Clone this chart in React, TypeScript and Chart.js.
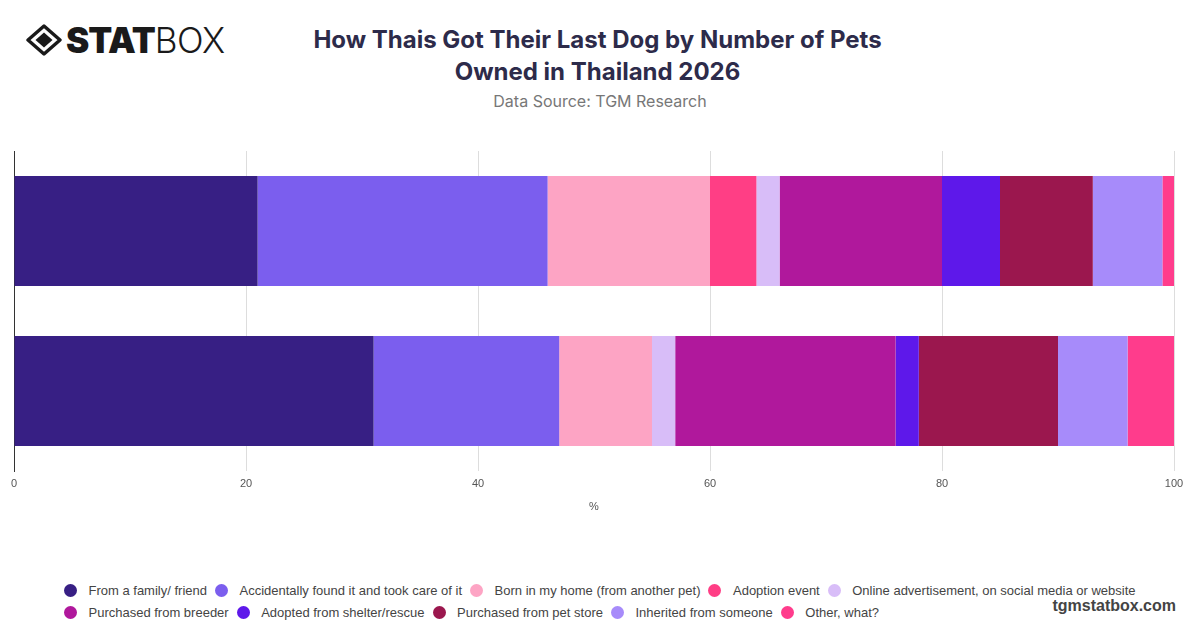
import React, { useEffect, useRef } from "react";
import { Chart, registerables } from "chart.js";

Chart.register(...registerables);

const categories = ["1 pet", "2 or more pets"];

const seriesNames = [
  "From a family/ friend",
  "Accidentally found it and took care of it",
  "Born in my home (from another pet)",
  "Adoption event",
  "Online advertisement, on social media or website",
  "Purchased from breeder",
  "Adopted from shelter/rescue",
  "Purchased from pet store",
  "Inherited from someone",
  "Other, what?",
];

const seriesColors = [
  "#371F84",
  "#7B5EEE",
  "#FDA4C4",
  "#FF3E85",
  "#D8BDF8",
  "#B0189C",
  "#5E18EA",
  "#9B174E",
  "#A78BFA",
  "#FF3C8C",
];

const fromFamily = [21, 31];
const accidentallyFound = [25, 16];
const bornInHome = [14, 8];
const adoptionEvent = [4, 0];
const onlineAd = [2, 2];
const breeder = [14, 19];
const shelter = [5, 2];
const petStore = [8, 12];
const inherited = [6, 6];
const other = [1, 4];

const seriesValues = [
  fromFamily,
  accidentallyFound,
  bornInHome,
  adoptionEvent,
  onlineAd,
  breeder,
  shelter,
  petStore,
  inherited,
  other,
];

const xTicks = [0, 20, 40, 60, 80, 100];

const TITLE_LINES = ["How Thais Got Their Last Dog by Number of Pets", "Owned in Thailand 2026"];
const SUBTITLE = "Data Source: TGM Research";

function Logo() {
  return (
    <div
      style={{
        position: "absolute",
        left: 26,
        top: 20,
        display: "flex",
        alignItems: "center",
        color: "#1a1a1a",
        fontFamily: "Inter, sans-serif",
        fontSize: 35,
        lineHeight: "40px",
      }}
    >
      <svg width="36" height="32" viewBox="0 0 36 32" style={{ marginRight: 4 }}>
        <polygon points="18,2 34,16 18,30 2,16" fill="none" stroke="#1a1a1a" strokeWidth="3.4" strokeLinejoin="round" />
        <polygon points="18,8.5 26.5,16 18,23.5 9.5,16" fill="#1a1a1a" />
      </svg>
      <span style={{ fontWeight: 900, letterSpacing: -1 }}>STAT</span>
      <span style={{ fontWeight: 300, letterSpacing: -0.5 }}>BOX</span>
    </div>
  );
}

function ChartCanvas() {
  const ref = useRef<HTMLCanvasElement | null>(null);
  useEffect(() => {
    if (!ref.current) return;
    const chart = new Chart(ref.current, {
      type: "bar",
      data: {
        labels: categories,
        datasets: seriesNames.map((name, i) => ({
          label: name,
          data: seriesValues[i],
          backgroundColor: seriesColors[i],
          borderWidth: 0,
          barPercentage: 0.6875,
          categoryPercentage: 1,
        })),
      },
      options: {
        indexAxis: "y",
        responsive: false,
        animation: false,
        devicePixelRatio: 1,
        layout: { padding: { top: 11, left: 14, right: 26, bottom: 4.6 } },
        plugins: {
          legend: { display: false },
          title: { display: false },
          tooltip: { enabled: false },
        },
        scales: {
          x: {
            stacked: true,
            min: 0,
            max: 100,
            afterBuildTicks: (scale: any) => {
              scale.ticks = xTicks.map((v) => ({ value: v }));
            },
            grid: { color: "#dddddd", lineWidth: 1, drawTicks: false },
            border: { display: false },
            ticks: {
              padding: 6,
              color: "#555555",
              font: { family: "'Liberation Sans', Arial, sans-serif", size: 11 },
            },
            title: {
              display: true,
              text: "%",
              color: "#555555",
              padding: { top: 4, bottom: 2 },
              font: { family: "'Liberation Sans', Arial, sans-serif", size: 11 },
            },
          },
          y: {
            stacked: true,
            grid: { display: false, drawTicks: false },
            border: { display: true, color: "#333333", width: 1 },
            ticks: { display: false },
          },
        },
      },
    } as any);
    return () => chart.destroy();
  }, []);
  return <canvas ref={ref} width={1200} height={380} style={{ position: "absolute", left: 0, top: 140, width: 1200, height: 380 }} />;
}

function Legend() {
  return (
    <div
      style={{
        position: "absolute",
        left: 64,
        top: 579,
        width: 1100,
        display: "flex",
        flexWrap: "wrap",
        rowGap: 0,
        fontFamily: "'Liberation Sans', Arial, sans-serif",
        fontSize: 13,
        color: "#444444",
      }}
    >
      {seriesNames.map((name, i) => (
        <div key={name} style={{ display: "flex", alignItems: "center", height: 22, marginRight: 8 }}>
          <span
            style={{
              display: "inline-block",
              width: 13,
              height: 13,
              borderRadius: "50%",
              background: seriesColors[i],
              marginRight: 11.5,
            }}
          />
          <span style={{ whiteSpace: "nowrap" }}>{name}</span>
        </div>
      ))}
    </div>
  );
}

export default function App() {
  return (
    <div
      style={{
        position: "absolute",
        left: 0,
        top: 0,
        width: 1200,
        height: 628,
        background: "#ffffff",
        overflow: "hidden",
      }}
    >
      <Logo />
      <div
        style={{
          position: "absolute",
          left: 0,
          top: 24,
          width: 1195,
          textAlign: "center",
          fontFamily: "Inter, sans-serif",
          fontWeight: 700,
          fontSize: 24,
          lineHeight: "32px",
          color: "#2d2b4a",
        }}
      >
        {TITLE_LINES.map((l) => (
          <div key={l}>{l}</div>
        ))}
      </div>
      <div
        style={{
          position: "absolute",
          left: 0,
          top: 90,
          width: 1200,
          textAlign: "center",
          fontFamily: "Inter, sans-serif",
          fontSize: 16,
          lineHeight: "22px",
          color: "#777777",
        }}
      >
        {SUBTITLE}
      </div>
      <ChartCanvas />
      <Legend />
      <div
        style={{
          position: "absolute",
          right: 24,
          top: 595,
          fontFamily: "'Liberation Sans', Arial, sans-serif",
          fontWeight: 700,
          fontSize: 16,
          lineHeight: "22px",
          color: "#444444",
        }}
      >
        tgmstatbox.com
      </div>
    </div>
  );
}
